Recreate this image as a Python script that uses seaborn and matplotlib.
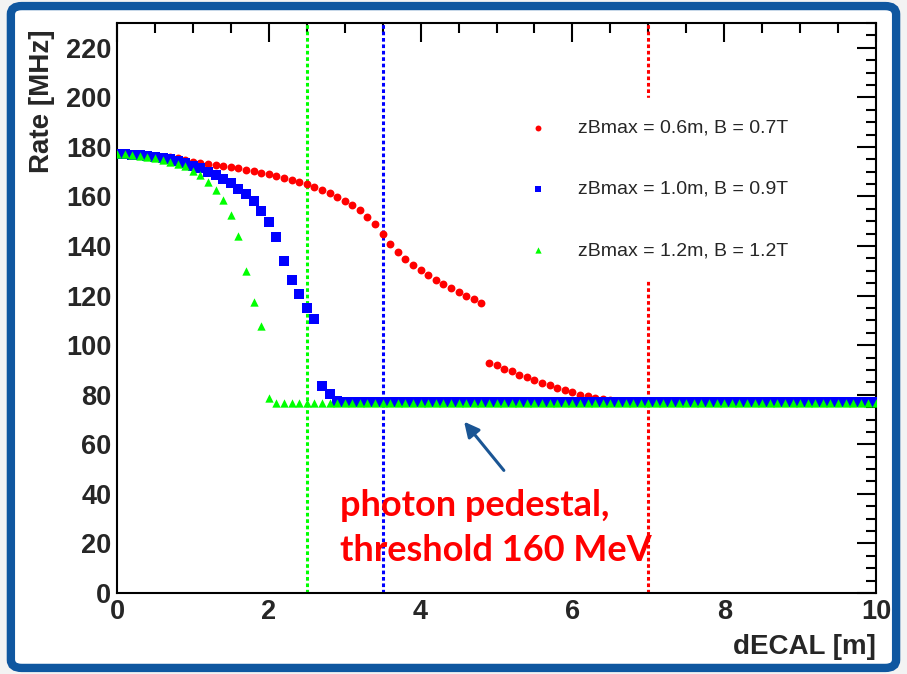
import numpy as np
import pandas as pd
import seaborn as sns
import matplotlib
matplotlib.use("Agg")
import matplotlib.pyplot as plt
from matplotlib.patches import FancyBboxPatch
from matplotlib.ticker import MultipleLocator

# ---------------- data ----------------
d_ecal = [round(0.1 * i, 1) for i in range(101)]  # sampling grid 0.0 .. 10.0 m

rate_06 = [177.0, 177.0, 176.9, 176.8, 176.6, 176.4, 176.1, 175.8, 175.5, 174.8,
           174.1, 173.7, 173.3, 172.9, 172.4, 171.9, 171.3, 170.8, 170.1, 169.5,
           168.9, 168.2, 167.4, 166.6, 165.7, 164.9, 163.8, 162.8, 161.3, 159.9,
           158.3, 156.5, 154.5, 151.9, 149.0, 144.8, 141.0, 137.5, 134.8, 132.5,
           130.3, 128.4, 126.5, 124.7, 123.1, 121.5, 120.0, 118.6, 117.2, 92.9,
           91.8, 90.4, 89.4, 87.9, 87.0, 85.9, 84.9, 83.9, 82.9, 81.8,
           81.0, 79.9, 79.4, 78.7, 78.3, 77.9, 77.6, 77.3, 77.1, 77.0,
           77.0, 77.0, 77.0, 77.0, 77.0, 77.0, 77.0, 77.0, 77.0, 77.0,
           77.0, 77.0, 77.0, 77.0, 77.0, 77.0, 77.0, 77.0, 77.0, 77.0,
           77.0, 77.0, 77.0, 77.0, 77.0, 77.0, 77.0, 77.0, 77.0, 77.0,
           77.0]

rate_10 = [177.0, 177.0, 176.8, 176.6, 176.3, 176.0, 175.6, 175.1, 174.4, 173.5,
           172.4, 171.3, 170.0, 168.7, 167.1, 165.4, 163.2, 160.8, 158.0, 154.3,
           149.7, 143.6, 134.0, 126.2, 120.6, 115.1, 110.6, 83.6, 80.2, 77.5,
           77.0, 77.0, 77.0, 77.0, 77.0, 77.0, 77.0, 77.0, 77.0, 77.0,
           77.0, 77.0, 77.0, 77.0, 77.0, 77.0, 77.0, 77.0, 77.0, 77.0,
           77.0, 77.0, 77.0, 77.0, 77.0, 77.0, 77.0, 77.0, 77.0, 77.0,
           77.0, 77.0, 77.0, 77.0, 77.0, 77.0, 77.0, 77.0, 77.0, 77.0,
           77.0, 77.0, 77.0, 77.0, 77.0, 77.0, 77.0, 77.0, 77.0, 77.0,
           77.0, 77.0, 77.0, 77.0, 77.0, 77.0, 77.0, 77.0, 77.0, 77.0,
           77.0, 77.0, 77.0, 77.0, 77.0, 77.0, 77.0, 77.0, 77.0, 77.0,
           77.0]

rate_12 = [177.0, 177.0, 176.8, 176.5, 176.1, 175.6, 174.8, 173.9, 173.1, 172.1,
           170.4, 168.5, 165.8, 162.6, 158.5, 152.7, 144.1, 130.1, 117.4, 107.8,
           78.5, 76.8, 76.8, 76.8, 76.8, 76.8, 76.8, 76.8, 76.8, 76.8,
           76.8, 76.8, 76.8, 76.8, 76.8, 76.8, 76.8, 76.8, 76.8, 76.8,
           76.8, 76.8, 76.8, 76.8, 76.8, 76.8, 76.8, 76.8, 76.8, 76.8,
           76.8, 76.8, 76.8, 76.8, 76.8, 76.8, 76.8, 76.8, 76.8, 76.8,
           76.8, 76.8, 76.8, 76.8, 76.8, 76.8, 76.8, 76.8, 76.8, 76.8,
           76.8, 76.8, 76.8, 76.8, 76.8, 76.8, 76.8, 76.8, 76.8, 76.8,
           76.8, 76.8, 76.8, 76.8, 76.8, 76.8, 76.8, 76.8, 76.8, 76.8,
           76.8, 76.8, 76.8, 76.8, 76.8, 76.8, 76.8, 76.8, 76.8, 76.8,
           76.8]

series_labels = ["zBmax = 0.6m, B = 0.7T",
                 "zBmax = 1.0m, B = 0.9T",
                 "zBmax = 1.2m, B = 1.2T"]
cut_positions = [7.0, 3.5, 2.5]          # vertical dotted lines (dECAL cut), per series
annotation_lines = ["photon pedestal,", "threshold 160 MeV"]

# ---------------- style ----------------
colors = ["#ff0000", "#0000ff", "#00ff00"]
markers = ["o", "s", "^"]
sizes = [32, 44, 36]

sns.set_style("white")
plt.rcParams["font.family"] = ["Liberation Sans", "DejaVu Sans"]

fig = plt.figure(figsize=(9.07, 6.74), dpi=100, facecolor="#f3f3f3")
# blue rounded frame
frame = FancyBboxPatch((0.012, 0.009), 0.976, 0.982,
                       boxstyle="round,pad=0,rounding_size=0.012",
                       transform=fig.transFigure, facecolor="white",
                       edgecolor="#0f57a0", linewidth=6, zorder=-5)
fig.patches.append(frame)

ax = fig.add_axes([117 / 907, (674 - 593) / 674, 759 / 907, 570 / 674])
ax.set_zorder(2)
ax.set_facecolor("white")

df = pd.DataFrame({
    "dECAL": d_ecal * 3,
    "rate": rate_06 + rate_10 + rate_12,
    "config": [series_labels[0]] * len(d_ecal) + [series_labels[1]] * len(d_ecal)
              + [series_labels[2]] * len(d_ecal),
})

for lab, col, mk, sz in zip(series_labels, colors, markers, sizes):
    sub = df[df["config"] == lab]
    sns.scatterplot(data=sub, x="dECAL", y="rate", ax=ax, color=col, marker=mk,
                    s=sz, linewidth=0, label=lab, zorder=3)

# vertical dotted cut lines
ax.set_xlim(0, 10)
ax.set_ylim(0, 230)
for xc, col in zip(cut_positions, colors):
    ax.axvline(xc, color=col, linestyle=(0, (1.2, 0.9)), linewidth=2.2, zorder=2)

# legend (white box hiding the red line behind it)
leg = ax.legend(loc="upper left", bbox_to_anchor=(0.488, 0.886), frameon=True,
                framealpha=1, facecolor="white", edgecolor="white",
                fontsize=14, labelspacing=2.24, handletextpad=1.05,
                markerscale=0.75, borderpad=1.1, fancybox=False)
leg.set_zorder(2.5)

# annotation
ax.text(2.94, 35.2, annotation_lines[0], color="#ff0000", fontsize=26,
        fontweight="bold", family=["Lato", "DejaVu Sans"], va="center", ha="left")
ax.text(2.94, 17.0, annotation_lines[1], color="#ff0000", fontsize=26,
        fontweight="bold", family=["Lato", "DejaVu Sans"], va="center", ha="left")
ax.annotate("", xy=(4.55, 70.0), xytext=(5.12, 48.6),
            arrowprops=dict(arrowstyle="-|>,head_length=0.9,head_width=0.45",
                            color="#1a5594", linewidth=2.2), zorder=4)

# axes, ticks (ROOT style)
ax.xaxis.set_major_locator(MultipleLocator(2))
ax.xaxis.set_minor_locator(MultipleLocator(0.5))
ax.yaxis.set_major_locator(MultipleLocator(20))
ax.yaxis.set_minor_locator(MultipleLocator(5))
ax.tick_params(which="both", direction="in", top=True, right=True,
               color="black", width=1.5)
ax.tick_params(which="major", length=14, labelsize=19.5, pad=4)
ax.tick_params(which="minor", length=7)
for lab in ax.get_xticklabels() + ax.get_yticklabels():
    lab.set_fontweight("bold")
for sp in ax.spines.values():
    sp.set_color("black")
    sp.set_linewidth(1.5)

ax.set_xlabel("dECAL [m]", fontsize=20, fontweight="bold", loc="right")
ax.set_ylabel("Rate [MHz]", fontsize=20, fontweight="bold", loc="top")
ax.xaxis.set_label_coords(1.0, -0.072)
ax.yaxis.set_label_coords(-0.082, 0.988)

fig.savefig("out.png", dpi=100, facecolor=fig.get_facecolor())
